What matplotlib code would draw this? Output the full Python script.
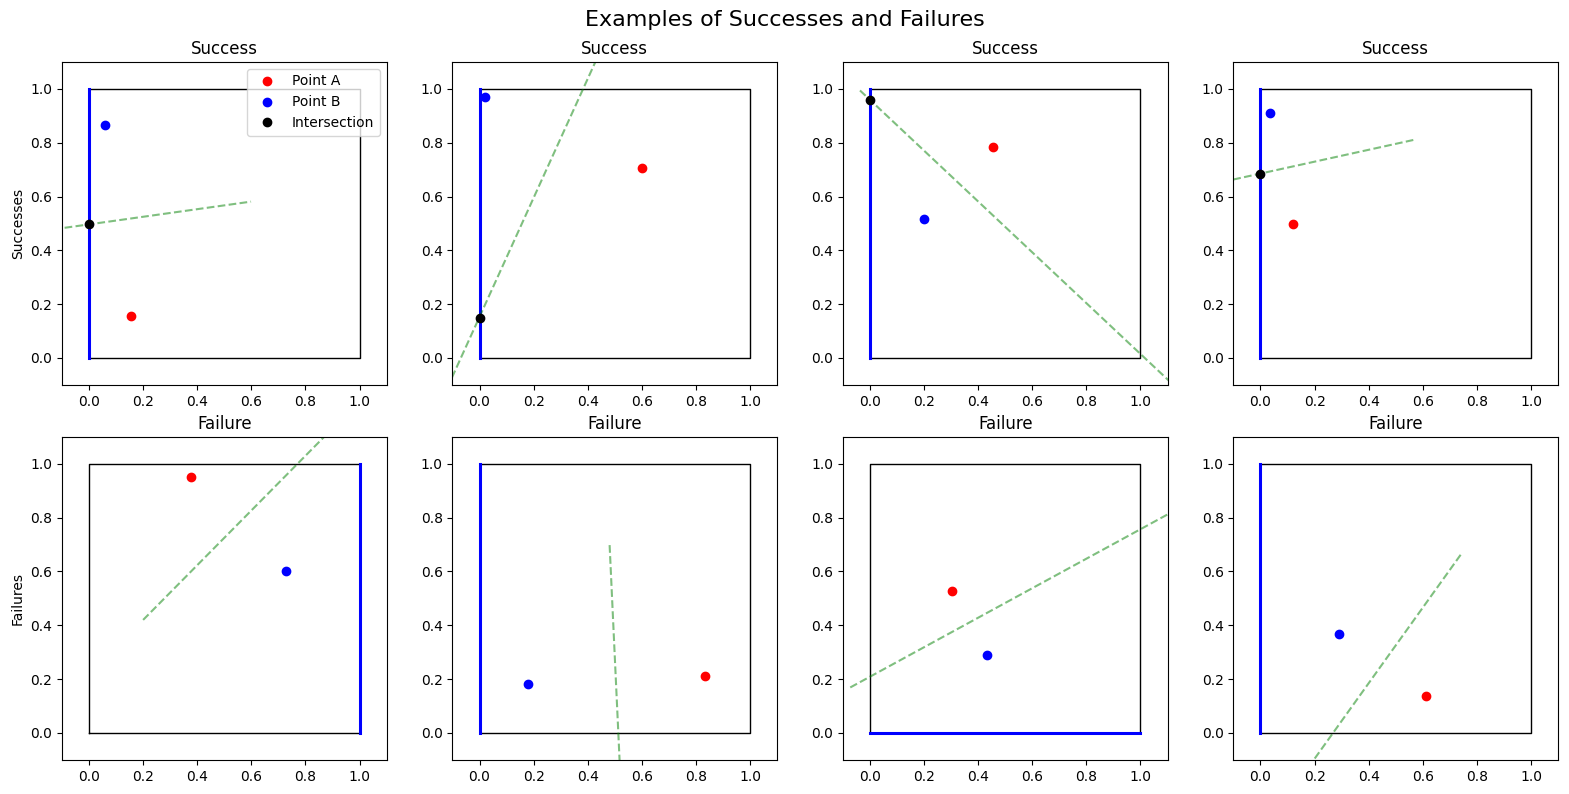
import numpy as np
import matplotlib
matplotlib.use("Agg")
import matplotlib.pyplot as plt

# one entry per panel: top row successes, bottom row failures
titles = ["Success"] * 4 + ["Failure"] * 4

point_a = [(0.155, 0.157), (0.600, 0.707), (0.456, 0.785), (0.119, 0.496),
           (0.376, 0.952), (0.833, 0.210), (0.302, 0.526), (0.612, 0.137)]
point_b = [(0.059, 0.867), (0.020, 0.969), (0.200, 0.515), (0.037, 0.911),
           (0.729, 0.600), (0.181, 0.181), (0.433, 0.289), (0.291, 0.367)]

# tested edge of the unit square
edges = [((0, 0), (0, 1)), ((0, 0), (0, 1)), ((0, 0), (0, 1)), ((0, 0), (0, 1)),
         ((1, 0), (1, 1)), ((0, 0), (0, 1)), ((0, 0), (1, 0)), ((0, 0), (0, 1))]

# bisector segment end points
bis_start = [(-0.40, 0.440), (-0.102, -0.073), (-0.037, 0.994), (-0.300, 0.619),
             (0.200, 0.420), (0.481, 0.698), (-0.073, 0.169), (0.740, 0.662)]
bis_end = [(0.599, 0.581), (0.516, 1.294), (1.200, -0.174), (0.565, 0.810),
           (1.000, 1.233), (0.527, -0.300), (1.500, 1.031), (-0.088, -0.500)]

intersections = [(0.0, 0.4975), (0.0, 0.148), (0.0, 0.959), (0.0, 0.685),
                 None, None, None, None]

square_x = [0, 1, 1, 0, 0]
square_y = [0, 0, 1, 1, 0]

fig, axs = plt.subplots(2, 4, figsize=(15.69, 7.94), dpi=100)
fig.subplots_adjust(left=0.0395, right=0.993, bottom=0.043, top=0.922,
                    wspace=0.203, hspace=0.161)

for i, ax in enumerate(axs.flatten()):
    ax.plot(square_x, square_y, color="black", lw=1)
    (ex0, ey0), (ex1, ey1) = edges[i]
    ax.plot([ex0, ex1], [ey0, ey1], color="blue", lw=2.2)
    ax.plot([bis_start[i][0], bis_end[i][0]], [bis_start[i][1], bis_end[i][1]],
            "--", color="green", alpha=0.5)
    ax.plot(*point_a[i], "o", color="red", label="Point A")
    ax.plot(*point_b[i], "o", color="blue", label="Point B")
    if intersections[i] is not None:
        ax.plot(*intersections[i], "o", color="black", label="Intersection")
    ax.set_xlim(-0.1, 1.1)
    ax.set_ylim(-0.1, 1.1)
    ax.set_title(titles[i])

axs[0, 0].legend(loc="upper right")
axs[0, 0].set_ylabel("Successes")
axs[1, 0].set_ylabel("Failures")
fig.suptitle("Examples of Successes and Failures", fontsize=16, y=0.988)

fig.savefig("out.png")
